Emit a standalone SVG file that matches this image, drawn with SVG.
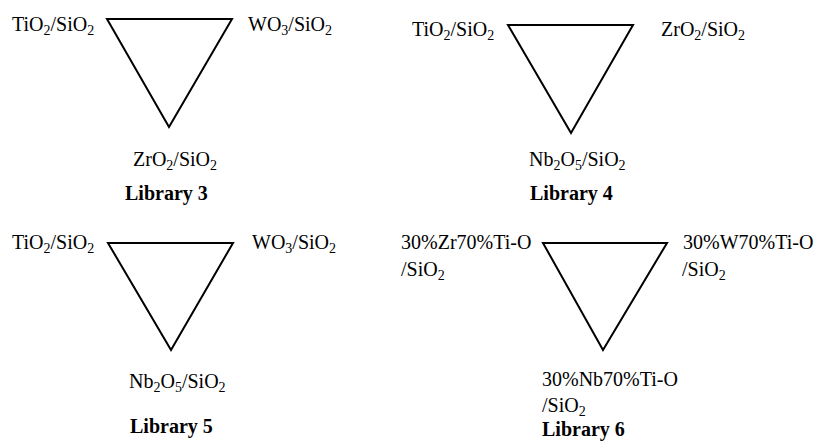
<svg xmlns="http://www.w3.org/2000/svg" width="814" height="447" viewBox="0 0 814 447">
<style>
text{font-family:"Liberation Serif","Times New Roman",serif;font-size:20px;fill:#000}
.b{font-weight:bold}
.s{font-size:14px}
.tri{fill:none;stroke:#000;stroke-width:2;stroke-linejoin:miter}
</style>
<rect width="814" height="447" fill="#fff"/>
<g id="library3">
<polygon class="tri" points="107,19 232,19 169,127"/>
<text x="12" y="31">TiO<tspan class="s" dy="4">2</tspan><tspan dy="-4">/SiO</tspan><tspan class="s" dy="4">2</tspan></text>
<text x="248" y="31">WO<tspan class="s" dy="4">3</tspan><tspan dy="-4">/SiO</tspan><tspan class="s" dy="4">2</tspan></text>
<text x="133" y="166">ZrO<tspan class="s" dy="4">2</tspan><tspan dy="-4">/SiO</tspan><tspan class="s" dy="4">2</tspan></text>
<text class="b" x="125" y="200">Library 3</text>
</g>
<g id="library4">
<polygon class="tri" points="508,25 633,25 571,133"/>
<text x="412" y="36">TiO<tspan class="s" dy="4">2</tspan><tspan dy="-4">/SiO</tspan><tspan class="s" dy="4">2</tspan></text>
<text x="661" y="36">ZrO<tspan class="s" dy="4">2</tspan><tspan dy="-4">/SiO</tspan><tspan class="s" dy="4">2</tspan></text>
<text x="529" y="166">Nb<tspan class="s" dy="4">2</tspan><tspan dy="-4">O</tspan><tspan class="s" dy="4">5</tspan><tspan dy="-4">/SiO</tspan><tspan class="s" dy="4">2</tspan></text>
<text class="b" x="530" y="200">Library 4</text>
</g>
<g id="library5">
<polygon class="tri" points="108,243 233,243 171,350"/>
<text x="12" y="249">TiO<tspan class="s" dy="4">2</tspan><tspan dy="-4">/SiO</tspan><tspan class="s" dy="4">2</tspan></text>
<text x="252" y="249">WO<tspan class="s" dy="4">3</tspan><tspan dy="-4">/SiO</tspan><tspan class="s" dy="4">2</tspan></text>
<text x="129" y="388">Nb<tspan class="s" dy="4">2</tspan><tspan dy="-4">O</tspan><tspan class="s" dy="4">5</tspan><tspan dy="-4">/SiO</tspan><tspan class="s" dy="4">2</tspan></text>
<text class="b" x="130" y="433">Library 5</text>
</g>
<g id="library6">
<polygon class="tri" points="543,243 667,243 603,350"/>
<text x="401" y="249">30%Zr70%Ti-O</text>
<text x="401" y="276">/SiO<tspan class="s" dy="4">2</tspan></text>
<text x="683" y="249">30%W70%Ti-O</text>
<text x="682" y="276">/SiO<tspan class="s" dy="4">2</tspan></text>
<text x="542" y="386">30%Nb70%Ti-O</text>
<text x="542" y="412">/SiO<tspan class="s" dy="4">2</tspan></text>
<text class="b" x="542" y="436">Library 6</text>
</g>
</svg>
